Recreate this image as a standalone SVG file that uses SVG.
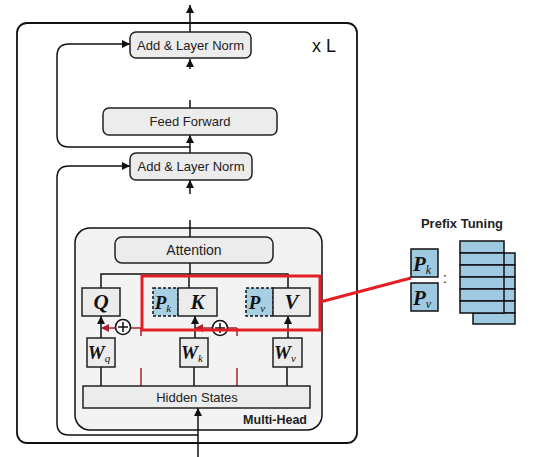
<svg xmlns="http://www.w3.org/2000/svg" width="541" height="457" viewBox="0 0 541 457">
<defs>
<style>
.box{fill:#ececec;stroke:#222;stroke-width:1.5}
.lbl{font-family:"Liberation Sans",Arial,sans-serif;font-size:12.5px;fill:#222;text-anchor:middle}
.math{font-family:"Liberation Serif","Times New Roman",serif;font-weight:bold;font-style:italic;font-size:21px;fill:#111;text-anchor:middle}
.sub{font-weight:normal;font-size:12px}
.ln{fill:none;stroke:#111;stroke-width:1.5}
.rl{fill:none;stroke:#a8232c;stroke-width:1.5}
.blue{fill:#9fc9e0;stroke:#111;stroke-width:1.5}
</style>
<marker id="ah" markerUnits="userSpaceOnUse" markerWidth="8" markerHeight="8" refX="8" refY="4" orient="auto"><path d="M0,0 L8,4 L0,8 z" fill="#111"/></marker>
<marker id="ahr" markerUnits="userSpaceOnUse" markerWidth="8" markerHeight="8" refX="8" refY="4" orient="auto"><path d="M0,0 L8,4 L0,8 z" fill="#a8232c"/></marker>
</defs>
<rect width="541" height="457" fill="#fff"/>
<g id="layer">
<rect x="17" y="23" width="340" height="420" rx="10" fill="#fff" stroke="#111" stroke-width="1.8"/>
<text x="312" y="52" font-family="Liberation Sans,Arial,sans-serif" font-size="18" fill="#111">x L</text>
</g>
<g id="multihead">
<rect x="75" y="228" width="247" height="202" rx="15" fill="#f3f3f3" stroke="#111" stroke-width="1.5"/>
<text x="307" y="424" class="lbl" style="text-anchor:end;font-weight:bold">Multi-Head</text>
</g>
<g id="connectors">
<path class="ln" d="M190,32 V5" marker-end="url(#ah)"/>
<path class="ln" d="M190,69 V59" marker-end="url(#ah)"/>
<path class="ln" d="M190,100 V108"/>
<path class="ln" d="M190,153 V135" marker-end="url(#ah)"/>
<path class="ln" d="M190,147 H69 Q57,147 57,135 V56 Q57,44 69,44 H130" marker-end="url(#ah)"/>
<path class="ln" d="M190,194 V180" marker-end="url(#ah)"/>
<path class="ln" d="M190,220 V237"/>
<path class="ln" d="M198,435 H69 Q57,435 57,423 V178 Q57,166 69,166 H130" marker-end="url(#ah)"/>
<path class="ln" d="M198,457 V408" marker-end="url(#ah)"/>
<path class="ln" d="M190,263 V274"/>
<path class="ln" d="M101,288 V274 H288 V288"/>
<path class="ln" d="M189,274 V288"/>
<path class="ln" d="M101,338 V316" marker-end="url(#ah)"/>
<path class="ln" d="M195,338 V316" marker-end="url(#ah)"/>
<path class="ln" d="M288,338 V316" marker-end="url(#ah)"/>
<path class="ln" d="M101,386 V367 M194,386 V367 M287,386 V367"/>
<path class="rl" d="M141,328 V336 M141,368 V386 M237,328 V336 M237,368 V386"/>
<path class="rl" d="M141,328 H101" marker-end="url(#ahr)"/>
<path class="rl" d="M237,328 H195" marker-end="url(#ahr)"/>
<circle cx="123" cy="327" r="7.5" fill="#fff" stroke="#111" stroke-width="1.6"/>
<path class="ln" d="M118,327 H128 M123,322 V332"/>
<circle cx="220" cy="328" r="7.5" fill="#fff" stroke="#111" stroke-width="1.6"/>
<path class="ln" d="M215,328 H225 M220,323 V333"/>
<rect x="142" y="276" width="178" height="54" fill="none" stroke="#e31e24" stroke-width="3"/>
<path d="M320,302 L411,278" stroke="#e31e24" stroke-width="3" fill="none"/>
</g>
<g id="addnorm-top">
<rect class="box" x="130" y="32" width="121" height="26" rx="6"/>
<text class="lbl" x="190.5" y="49.5" style="font-size:13px">Add &amp; Layer Norm</text>
</g>
<g id="feedforward">
<rect class="box" x="103" y="108" width="174" height="27" rx="6"/>
<text class="lbl" x="190" y="126" style="font-size:13px">Feed Forward</text>
</g>
<g id="addnorm-bottom">
<rect class="box" x="130" y="153" width="122" height="27" rx="6"/>
<text class="lbl" x="191" y="171" style="font-size:13px">Add &amp; Layer Norm</text>
</g>
<g id="attention">
<rect class="box" x="115" y="237" width="158" height="26" rx="7"/>
<text class="lbl" x="194" y="255" style="font-size:14px">Attention</text>
</g>
<g id="hidden">
<rect class="box" x="83" y="386" width="227" height="22"/>
<text class="lbl" x="197" y="402" style="font-size:13px">Hidden States</text>
</g>
<g id="Q">
<rect class="box" x="82" y="288" width="38" height="28"/>
<text class="math" x="101" y="309">Q</text>
</g>
<g id="Pk">
<rect x="153" y="288" width="25" height="28" fill="#a9cfe2" stroke="#111" stroke-width="1.5" stroke-dasharray="3,2"/>
<text class="math" x="163" y="309" style="font-size:19px">P<tspan class="sub" dy="3" style="font-size:11px">k</tspan></text>
</g>
<g id="K">
<rect class="box" x="178" y="288" width="39" height="28"/>
<text class="math" x="197.5" y="309">K</text>
</g>
<g id="Pv">
<rect x="246" y="288" width="27" height="28" fill="#a9cfe2" stroke="#111" stroke-width="1.5" stroke-dasharray="3,2"/>
<text class="math" x="257" y="309" style="font-size:19px">P<tspan class="sub" dy="3" style="font-size:11px">v</tspan></text>
</g>
<g id="V">
<rect class="box" x="273" y="288" width="37" height="28"/>
<text class="math" x="291.5" y="309">V</text>
</g>
<g id="Wq">
<rect class="box" x="87" y="338" width="28" height="29"/>
<text class="math" x="99" y="359" style="font-size:19px">W<tspan class="sub" dy="3" style="font-size:11px">q</tspan></text>
</g>
<g id="Wk">
<rect class="box" x="180" y="338" width="28" height="29"/>
<text class="math" x="192" y="359" style="font-size:19px">W<tspan class="sub" dy="3" style="font-size:11px">k</tspan></text>
</g>
<g id="Wv">
<rect class="box" x="273" y="338" width="29" height="29"/>
<text class="math" x="285" y="359" style="font-size:19px">W<tspan class="sub" dy="3" style="font-size:11px">v</tspan></text>
</g>
<g id="prefix-tuning">
<text class="lbl" x="462" y="228" style="font-weight:bold;font-size:13px">Prefix Tuning</text>
<rect class="blue" x="411" y="249" width="27" height="28" stroke-width="2"/>
<text class="math" x="422" y="271" style="font-size:21px">P<tspan class="sub" dy="3" style="font-size:12px">k</tspan></text>
<rect class="blue" x="411" y="283" width="27" height="28" stroke-width="2"/>
<text class="math" x="422" y="305" style="font-size:21px">P<tspan class="sub" dy="3" style="font-size:12px">v</tspan></text>
<text x="445" y="283" font-family="Liberation Sans,Arial,sans-serif" font-size="14" fill="#111" text-anchor="middle">:</text>
<rect class="blue" x="473" y="253" width="42" height="12"/>
<rect class="blue" x="473" y="265" width="42" height="12"/>
<rect class="blue" x="473" y="277" width="42" height="12"/>
<rect class="blue" x="473" y="289" width="42" height="12"/>
<rect class="blue" x="473" y="301" width="42" height="12"/>
<rect class="blue" x="473" y="313" width="42" height="11"/>
<rect class="blue" x="460" y="241" width="44" height="12"/>
<rect class="blue" x="460" y="253" width="44" height="12"/>
<rect class="blue" x="460" y="265" width="44" height="12"/>
<rect class="blue" x="460" y="277" width="44" height="12"/>
<rect class="blue" x="460" y="289" width="44" height="12"/>
<rect class="blue" x="460" y="301" width="44" height="12"/>
</g>
</svg>
